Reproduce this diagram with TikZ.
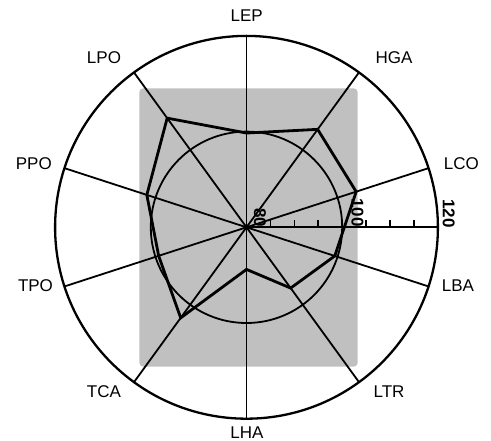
\documentclass[tikz,border=0pt]{standalone}
\usepackage{fontspec}
\setmainfont{Liberation Sans}
\definecolor{panelgray}{RGB}{192,192,192}
\tikzset{
  spoke/.style={line width=1.8pt},
  ring/.style={line width=1.8pt},
  rim/.style={line width=2.3pt},
  profile/.style={line width=2.8pt, line join=miter},
  tickmark/.style={line width=1.6pt},
  catlabel/.style={inner sep=0pt, font=\fontsize{17}{20}\selectfont},
  scalelabel/.style={inner sep=0pt, rotate=-90, font=\fontsize{17}{20}\selectfont\bfseries},
}
\newcommand{\rsc}{4.785}
\begin{document}
\begin{tikzpicture}[x=1pt,y=1pt]
\useasboundingbox (-246.5,-213.7) rectangle (244.5,227.3);
\coordinate (C) at (0,0);
% gray panel
\fill[panelgray, rounded corners=4pt] (-107.2,-139.4) rectangle (111.2,139);
% circles
\node[draw, circle, ring, minimum size={2*20*\rsc pt}, inner sep=0pt] (inner) at (C) {};
\node[draw, circle, rim, minimum size={2*40*\rsc pt}, inner sep=0pt] (outer) at (C) {};
% spoke ends
\foreach \i/\n in {0/LEP,1/HGA,2/LCO,3/LBA,4/LTR,5/LHA,6/TCA,7/TPO,8/PPO,9/LPO}{
  \coordinate (e\n) at ({90-36*\i}:{40*\rsc});
  \draw[spoke] (C) -- (e\n);
}
% scale axis
\coordinate (axend) at (0:{40*\rsc});
\draw[spoke] (C) -- (axend);
\foreach \v in {85,90,95,100,105,110,115}{
  \coordinate (t\v) at ({(\v-80)*\rsc},0);
  \draw[tickmark] (t\v) -- ++(0,7);
}
\node[scalelabel] (s80) at (13.5,9.8) {80};
\node[scalelabel] (s100) at (111,14.8) {100};
\node[scalelabel] (s120) at (202.3,14) {120};
% profile
\foreach \i/\n/\v in {0/LEP/99.7,1/HGA/105.3,2/LCO/104.1,3/LBA/99.4,4/LTR/95.7,5/LHA/88.8,6/TCA/103.4,7/TPO/99.3,8/PPO/101.9,9/LPO/108.2}{
  \coordinate (p\n) at ({90-36*\i}:{(\v-80)*\rsc});
}
\draw[profile] (pLEP) -- (pHGA) -- (pLCO) -- (pLBA) -- (pLTR) -- (pLHA) -- (pTCA) -- (pTPO) -- (pPPO) -- (pLPO) -- cycle;
% category labels
\node[catlabel] (lLEP) at (0.2,211.6) {LEP};
\node[catlabel] (lHGA) at (147.5,169.3) {HGA};
\node[catlabel] (lLCO) at (214.8,64) {LCO};
\node[catlabel] (lLBA) at (211.5,-58.4) {LBA};
\node[catlabel] (lLTR) at (142.5,-164.4) {LTR};
\node[catlabel] (lLHA) at (0.5,-205.4) {LHA};
\node[catlabel] (lTCA) at (-142.5,-164.4) {TCA};
\node[catlabel] (lTPO) at (-211,-58.4) {TPO};
\node[catlabel] (lPPO) at (-212.7,64) {PPO};
\node[catlabel] (lLPO) at (-142.5,169.3) {LPO};
\end{tikzpicture}
\end{document}
